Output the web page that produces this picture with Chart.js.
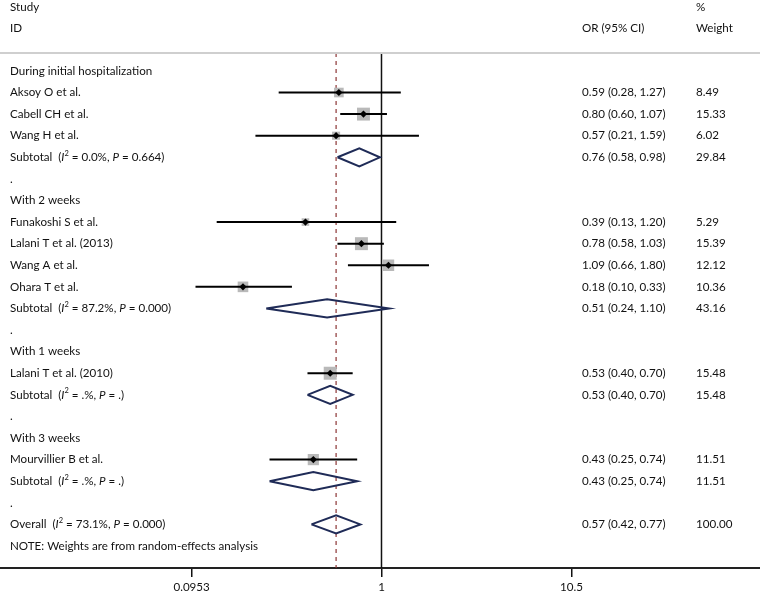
<!DOCTYPE html>
<html>
<head>
<meta charset="utf-8">
<script src="https://cdn.jsdelivr.net/npm/chart.js@4.4.0/dist/chart.umd.min.js"></script>
<style>
  html, body { margin: 0; padding: 0; background: #fff; }
  #wrap { width: 760px; height: 592px; }
</style>
</head>
<body>
<div id="wrap"><canvas id="forest"></canvas></div>
<script>
// rows are counted from the top of the plot (0 = first group heading)
const groupNames = ['During initial hospitalization', 'With 2 weeks', 'With 1 weeks', 'With 3 weeks'];
const groupRows = [0, 6, 13, 17];
const dotRows = [5, 12, 16, 20];

const studyNames = ['Aksoy O et al.', 'Cabell CH et al.', 'Wang H et al.', 'Funakoshi S et al.',
  'Lalani T et al. (2013)', 'Wang A et al.', 'Ohara T et al.', 'Lalani T et al. (2010)', 'Mourvillier B et al.'];
const studyRows = [1, 2, 3, 7, 8, 9, 10, 14, 18];
const studyOR = [0.59, 0.80, 0.57, 0.39, 0.78, 1.09, 0.18, 0.53, 0.43];
const studyLo = [0.28, 0.60, 0.21, 0.13, 0.58, 0.66, 0.10, 0.40, 0.25];
const studyHi = [1.27, 1.07, 1.59, 1.20, 1.03, 1.80, 0.33, 0.70, 0.74];
const studyWeight = [8.49, 15.33, 6.02, 5.29, 15.39, 12.12, 10.36, 15.48, 11.51];

const poolNames = ['Subtotal', 'Subtotal', 'Subtotal', 'Subtotal', 'Overall'];
const poolRows = [4, 11, 15, 19, 21];
const poolI2 = ['0.0%', '87.2%', '.%', '.%', '73.1%'];
const poolP = ['0.664', '0.000', '.', '.', '0.000'];
const poolOR = [0.76, 0.51, 0.53, 0.43, 0.57];
const poolLo = [0.58, 0.24, 0.40, 0.25, 0.42];
const poolHi = [0.98, 1.10, 0.70, 0.74, 0.77];
const poolWeight = [29.84, 43.16, 15.48, 11.51, 100.00];

const noteRow = 22;
const noteText = 'NOTE: Weights are from random-effects analysis';
const xTicks = [0.0953, 1, 10.5];
const xTickLabels = ['0.0953', '1', '10.5'];
const overallOR = 0.57;

const ROW_MIN = -0.83, ROW_MAX = 23.02;
const FONT = 'Lato, "Liberation Sans", sans-serif';
const FSIZE = 11.6;
const TEXT = '#111';

const datasets = [];

// reference lines: null effect and overall estimate
datasets.push({
  type: 'line', order: 20, data: [{ x: 1, y: ROW_MIN }, { x: 1, y: ROW_MAX }],
  borderColor: '#111', borderWidth: 1.5, pointRadius: 0, fill: false
});
datasets.push({
  type: 'line', order: 19, data: [{ x: overallOR, y: ROW_MIN }, { x: overallOR, y: ROW_MAX }],
  borderColor: '#8c3535', borderWidth: 1.2, borderDash: [4, 4], pointRadius: 0, fill: false
});

// weight squares
datasets.push({
  type: 'scatter', order: 10,
  data: studyOR.map((v, i) => ({ x: v, y: studyRows[i] })),
  pointStyle: 'rect',
  pointRadius: studyWeight.map(w => 3.3 * Math.sqrt(w) / Math.SQRT2),
  backgroundColor: '#b9b9b9', borderWidth: 0
});

// confidence intervals
studyOR.forEach((v, i) => {
  datasets.push({
    type: 'line', order: 5,
    data: [{ x: studyLo[i], y: studyRows[i] }, { x: studyHi[i], y: studyRows[i] }],
    borderColor: '#000', borderWidth: 2, pointRadius: 0, fill: false
  });
});

// point estimates
datasets.push({
  type: 'scatter', order: 1,
  data: studyOR.map((v, i) => ({ x: v, y: studyRows[i] })),
  pointStyle: 'rectRot', pointRadius: 3.6,
  backgroundColor: '#000', borderWidth: 0
});

// pooled diamonds
const dh = 0.42;
poolOR.forEach((v, i) => {
  const r = poolRows[i];
  datasets.push({
    type: 'line', order: 3,
    data: [{ x: poolLo[i], y: r }, { x: v, y: r - dh }, { x: poolHi[i], y: r },
           { x: v, y: r + dh }, { x: poolLo[i], y: r }],
    borderColor: '#1f2b57', borderWidth: 2, pointRadius: 0, fill: false,
    borderJoinStyle: 'miter', tension: 0
  });
});

function drawRich(ctx, parts, x, y) {
  parts.forEach(p => {
    ctx.font = p.f;
    ctx.fillText(p.t, x, y + (p.dy || 0));
    x += ctx.measureText(p.t).width;
  });
}

const textPlugin = {
  id: 'forestText',
  afterDraw(chart) {
    const ctx = chart.ctx;
    const ys = chart.scales.y;
    const f = FSIZE + 'px ' + FONT;
    const fi = 'italic ' + FSIZE + 'px ' + FONT;
    const fs = '7.5px ' + FONT;
    ctx.save();
    ctx.fillStyle = TEXT;
    ctx.textBaseline = 'middle';
    ctx.textAlign = 'left';
    ctx.font = f;

    // headers
    ctx.fillText('Study', 10, 7);
    ctx.fillText('ID', 10, 28);
    ctx.fillText('OR (95% CI)', 582, 28);
    ctx.fillText('%', 696, 7);
    ctx.fillText('Weight', 696, 28);

    groupNames.forEach((g, i) => ctx.fillText(g, 10, ys.getPixelForValue(groupRows[i])));
    dotRows.forEach(r => ctx.fillText('.', 10, ys.getPixelForValue(r)));

    studyNames.forEach((s, i) => {
      const y = ys.getPixelForValue(studyRows[i]);
      ctx.fillText(s, 10, y);
      ctx.fillText(studyOR[i].toFixed(2) + ' (' + studyLo[i].toFixed(2) + ', ' + studyHi[i].toFixed(2) + ')', 582, y);
      ctx.fillText(studyWeight[i].toFixed(2), 696, y);
    });

    poolNames.forEach((s, i) => {
      const y = ys.getPixelForValue(poolRows[i]);
      drawRich(ctx, [
        { t: s + '  (', f: f },
        { t: 'I', f: fi },
        { t: '2', f: fs, dy: -4 },
        { t: ' = ' + poolI2[i] + ', ', f: f },
        { t: 'P', f: fi },
        { t: ' = ' + poolP[i] + ')', f: f }
      ], 10, y);
      ctx.font = f;
      ctx.fillText(poolOR[i].toFixed(2) + ' (' + poolLo[i].toFixed(2) + ', ' + poolHi[i].toFixed(2) + ')', 582, y);
      ctx.fillText(poolWeight[i].toFixed(2), 696, y);
    });

    ctx.fillText(noteText, 10, ys.getPixelForValue(noteRow));

    // separator under the header
    ctx.strokeStyle = '#cfcfcf';
    ctx.lineWidth = 2;
    ctx.beginPath();
    ctx.moveTo(0, chart.chartArea.top);
    ctx.lineTo(760, chart.chartArea.top);
    ctx.stroke();
    ctx.restore();
  }
};

new Chart(document.getElementById('forest'), {
  type: 'scatter',
  data: { datasets: datasets },
  options: {
    responsive: true,
    maintainAspectRatio: false,
    animation: false,
    events: [],
    layout: { autoPadding: false, padding: { top: 53, left: 0, right: 0, bottom: 0 } },
    plugins: { legend: { display: false }, tooltip: { enabled: false } },
    scales: {
      x: {
        type: 'logarithmic',
        min: 0.00889,
        max: 108.4,
        afterBuildTicks: scale => { scale.ticks = xTicks.map(v => ({ value: v })); },
        afterFit: scale => { scale.height = 24; },
        ticks: {
          autoSkip: false, maxRotation: 0, padding: 3, color: TEXT,
          font: { family: FONT, size: FSIZE },
          callback: (v) => { const k = xTicks.indexOf(v); return k >= 0 ? xTickLabels[k] : ''; }
        },
        grid: { drawOnChartArea: false, drawTicks: true, tickLength: 9, color: '#111', lineWidth: 1.5 },
        border: { display: true, color: '#222', width: 2 }
      },
      y: {
        type: 'linear', reverse: true, min: ROW_MIN, max: ROW_MAX, display: false
      }
    }
  },
  plugins: [textPlugin]
});
</script>
</body>
</html>
